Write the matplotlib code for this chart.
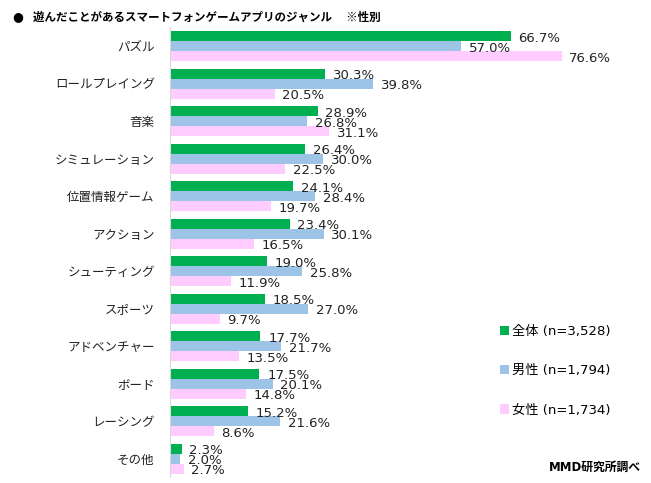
import matplotlib
matplotlib.use("Agg")
import matplotlib.pyplot as plt
import numpy as np

categories = ["パズル", "ロールプレイング", "音楽", "シミュレーション", "位置情報ゲーム",
              "アクション", "シューティング", "スポーツ", "アドベンチャー", "ボード",
              "レーシング", "その他"]
total = [66.7, 30.3, 28.9, 26.4, 24.1, 23.4, 19.0, 18.5, 17.7, 17.5, 15.2, 2.3]
male = [57.0, 39.8, 26.8, 30.0, 28.4, 30.1, 25.8, 27.0, 21.7, 20.1, 21.6, 2.0]
female = [76.6, 20.5, 31.1, 22.5, 19.7, 16.5, 11.9, 9.7, 13.5, 14.8, 8.6, 2.7]
series_names = ["全体 (n=3,528)", "男性 (n=1,794)", "女性 (n=1,734)"]
colors = ["#00B050", "#9DC3E6", "#FFCCFF"]
title = "遊んだことがあるスマートフォンゲームアプリのジャンル　 ※性別"
source = "MMD研究所調べ"

jp = ["Noto Sans CJK JP", "DejaVu Sans"]
mixed = ["DejaVu Sans", "Noto Sans CJK JP"]
W, H = 651, 483
fig = plt.figure(figsize=(W / 100, H / 100), dpi=100)
ax = fig.add_axes([170 / W, (H - 477.25) / H, 460 / W, 450 / H])

y = np.arange(len(categories))
bh = 10 / 37.5
for i, (vals, c) in enumerate(zip([total, male, female], colors)):
    pos = y + (i - 1) * bh
    ax.barh(pos, vals, height=bh, color=c, label=series_names[i])
    for p, v in zip(pos, vals):
        ax.annotate(f"{v:.1f}%", (v, p), xytext=(5.5, -1.5), textcoords="offset points",
                    va="center", ha="left", fontsize=9.5, family="DejaVu Sans",
                    color="#222222")

ax.set_xlim(0, 90)
ax.set_ylim(len(categories) - 0.5, -0.5)
ax.set_yticks(y)
ax.set_yticklabels(categories, family=jp, fontsize=9, color="#222222")
ax.tick_params(axis="y", length=0, pad=11)
ax.set_xticks([])
for s in ["top", "right", "bottom"]:
    ax.spines[s].set_visible(False)
ax.spines["left"].set_color("#D9D9D9")

fig.text(12 / W, 1 - 17 / H, "●", family="DejaVu Sans", fontsize=9,
         va="center", ha="left")
fig.text(33 / W, 1 - 17 / H, title, family=jp, fontsize=8.3, fontweight="bold",
         va="center", ha="left")

handles, labels = ax.get_legend_handles_labels()
leg = fig.legend(handles, labels, loc="upper left", bbox_to_anchor=(488 / W, 1 - 313 / H),
                 frameon=False, prop={"family": mixed, "size": 9.5}, handlelength=0.7,
                 handleheight=0.7, handletextpad=0.25, labelspacing=2.0)

fig.text(641 / W, 1 - 467 / H, source, family=mixed, fontsize=8.5, fontweight="bold",
         ha="right", va="center")

fig.savefig("out.png", dpi=100)
